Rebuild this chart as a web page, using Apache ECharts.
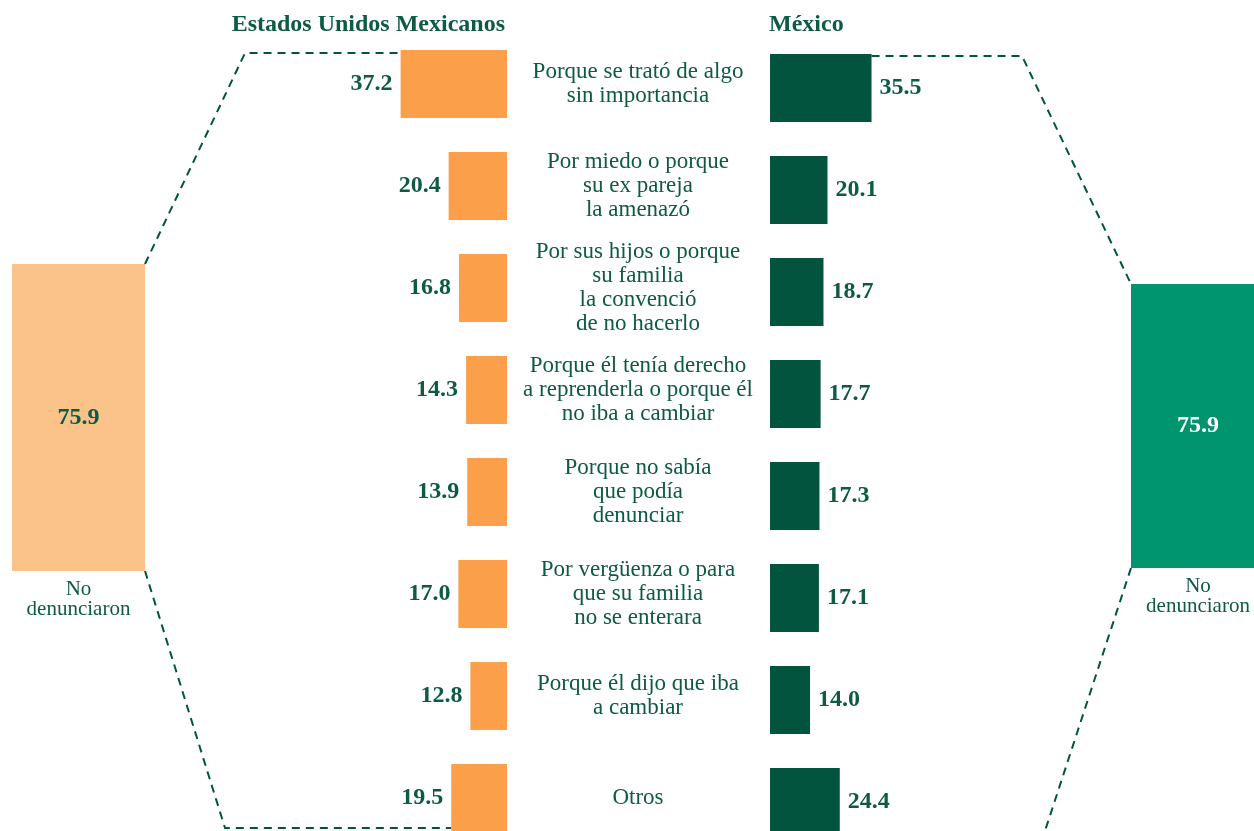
<!DOCTYPE html>
<html>
<head>
<meta charset="utf-8">
<script src="https://cdn.jsdelivr.net/npm/echarts@6/dist/echarts.min.js"></script>
<style>
html,body{margin:0;padding:0;background:#fff;}
#c{width:1254px;height:831px;}
</style>
</head>
<body>
<div id="c"></div>
<script>
const categories = [
  'Porque se trató de algo\nsin importancia',
  'Por miedo o porque\nsu ex pareja\nla amenazó',
  'Por sus hijos o porque\nsu familia\nla convenció\nde no hacerlo',
  'Porque él tenía derecho\na reprenderla o porque él\nno iba a cambiar',
  'Porque no sabía\nque podía\ndenunciar',
  'Por vergüenza o para\nque su familia\nno se enterara',
  'Porque él dijo que iba\na cambiar',
  'Otros'
];
const usaValues = [37.2, 20.4, 16.8, 14.3, 13.9, 17.0, 12.8, 19.5];
const mexValues = [35.5, 20.1, 18.7, 17.7, 17.3, 17.1, 14.0, 24.4];
const totalLabel = ['No\ndenunciaron'];
const usaTotal = [75.9];
const mexTotal = [75.9];
const titles = ['Estados Unidos Mexicanos', 'México'];

const FONT = '"Liberation Serif", "Times New Roman", serif';
const TXT = '#0D5A45';
const DARK = '#02543F';
const ORANGE = '#FB9F4A';
const LIGHT_ORANGE = '#FBC28A';
const GREEN = '#00956F';

const chart = echarts.init(document.getElementById('c'), null, {renderer: 'canvas'});

const hidden = {show: false};
const option = {
  animation: false,
  backgroundColor: '#ffffff',
  textStyle: {fontFamily: FONT},
  title: [
    {text: titles[0], right: 744, top: 8,
     textStyle: {fontFamily: FONT, fontSize: 24, fontWeight: 'bold', color: TXT}},
    {text: titles[1], left: 764, top: 8,
     textStyle: {fontFamily: FONT, fontSize: 24, fontWeight: 'bold', color: TXT}}
  ],
  grid: [
    {left: 364, width: 143, top: 33, height: 816, outerBoundsMode: 'none', containLabel: false},
    {left: 770, width: 143, top: 37, height: 816, outerBoundsMode: 'none', containLabel: false},
    {left: 12, width: 133, top: 264, height: 307, outerBoundsMode: 'none', containLabel: false},
    {left: 1131, width: 134, top: 284, height: 284, outerBoundsMode: 'none', containLabel: false}
  ],
  xAxis: [
    {gridIndex: 0, type: 'value', min: 0, max: 50, inverse: true, show: false},
    {gridIndex: 1, type: 'value', min: 0, max: 50, show: false},
    {gridIndex: 2, type: 'category', data: totalLabel,
     axisLine: hidden, axisTick: hidden,
     axisLabel: {fontFamily: FONT, fontSize: 21, lineHeight: 20, color: TXT, margin: 8}},
    {gridIndex: 3, type: 'category', data: totalLabel,
     axisLine: hidden, axisTick: hidden,
     axisLabel: {fontFamily: FONT, fontSize: 21, lineHeight: 20, color: TXT, margin: 8}}
  ],
  yAxis: [
    {gridIndex: 0, type: 'category', data: categories, inverse: true, position: 'right',
     axisLine: hidden, axisTick: hidden, splitLine: hidden,
     axisLabel: {fontFamily: FONT, fontSize: 23, lineHeight: 24, color: TXT,
                 align: 'center', margin: 131, interval: 0, padding: [5, 0, 0, 0]}},
    {gridIndex: 1, type: 'category', data: categories, inverse: true, show: false},
    {gridIndex: 2, type: 'value', min: 0, max: 75.9, show: false},
    {gridIndex: 3, type: 'value', min: 0, max: 75.9, show: false}
  ],
  series: [
    {type: 'bar', xAxisIndex: 0, yAxisIndex: 0, data: usaValues, barWidth: 68,
     itemStyle: {color: ORANGE},
     label: {show: true, position: 'left', distance: 8, formatter: p => p.value.toFixed(1),
             fontFamily: FONT, fontSize: 24, fontWeight: 'bold', color: TXT}},
    {type: 'bar', xAxisIndex: 1, yAxisIndex: 1, data: mexValues, barWidth: 68,
     itemStyle: {color: DARK},
     label: {show: true, position: 'right', distance: 8, formatter: p => p.value.toFixed(1),
             fontFamily: FONT, fontSize: 24, fontWeight: 'bold', color: TXT}},
    {type: 'bar', xAxisIndex: 2, yAxisIndex: 2, data: usaTotal, barWidth: '100%',
     itemStyle: {color: LIGHT_ORANGE},
     label: {show: true, position: 'inside', formatter: p => p.value.toFixed(1),
             fontFamily: FONT, fontSize: 24, fontWeight: 'bold', color: TXT}},
    {type: 'bar', xAxisIndex: 3, yAxisIndex: 3, data: mexTotal, barWidth: '100%',
     itemStyle: {color: GREEN},
     label: {show: true, position: 'inside', formatter: p => p.value.toFixed(1),
             fontFamily: FONT, fontSize: 24, fontWeight: 'bold', color: '#ffffff'}}
  ]
};
chart.setOption(option);

// Dashed connectors, anchored on the bars through the axes
function gridRect(i) {
  return chart.getModel().getComponent('grid', i).coordinateSystem.getRect();
}
const half = 34;
const n = categories.length;
const uTop = chart.convertToPixel({xAxisIndex: 0, yAxisIndex: 0}, [usaValues[0], 0]);
const uBot = chart.convertToPixel({xAxisIndex: 0, yAxisIndex: 0}, [usaValues[n - 1], n - 1]);
const mTop = chart.convertToPixel({xAxisIndex: 1, yAxisIndex: 1}, [mexValues[0], 0]);
const mBot = chart.convertToPixel({xAxisIndex: 1, yAxisIndex: 1}, [mexValues[n - 1], n - 1]);
const gL = gridRect(2), gR = gridRect(3);
const Lx = gL.x + gL.width, Ltop = gL.y, Lbot = gL.y + gL.height;
const Rx = gR.x, Rtop = gR.y, Rbot = gR.y + gR.height;

const lineStyle = {stroke: DARK, lineWidth: 2, lineDash: [8, 6], fill: null};
const lines = [
  [[Lx, Ltop], [Lx + 100, uTop[1] - half + 3], [uTop[0], uTop[1] - half + 3]],
  [[Lx, Lbot], [Lx + 80, uBot[1] + half - 4], [uBot[0], uBot[1] + half - 4]],
  [[mTop[0], mTop[1] - half + 2], [Rx - 109, mTop[1] - half + 2], [Rx, Rtop]],
  [[Rx, Rbot], [Rx - 88, mBot[1] + half + 1], [mBot[0], mBot[1] + half + 1]]
];
chart.setOption({
  graphic: lines.map(pts => ({
    type: 'polyline', silent: true, z: 0,
    shape: {points: pts},
    style: lineStyle
  }))
});
</script>
</body>
</html>
